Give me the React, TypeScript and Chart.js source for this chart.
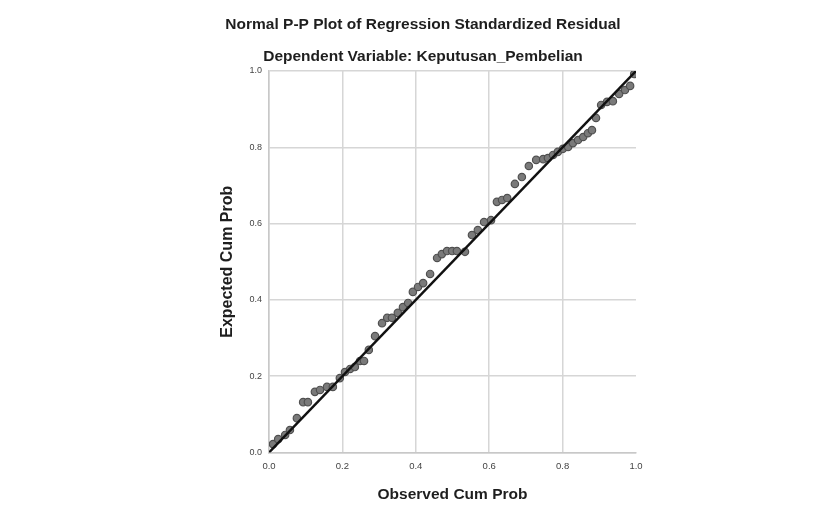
import React, { useEffect, useRef } from "react";
import { Chart, registerables } from "chart.js";

Chart.register(...registerables);

const observedCumProb = [
  0.011, 0.025, 0.044, 0.057, 0.076, 0.093, 0.106, 0.125, 0.139, 0.158,
  0.174, 0.193, 0.207, 0.221, 0.234, 0.248, 0.259, 0.272, 0.289, 0.308,
  0.322, 0.335, 0.351, 0.365, 0.379, 0.392, 0.406, 0.42, 0.439, 0.458,
  0.471, 0.485, 0.499, 0.512, 0.534, 0.553, 0.569, 0.586, 0.605, 0.621,
  0.635, 0.649, 0.67, 0.689, 0.708, 0.728, 0.747, 0.76, 0.774, 0.787,
  0.801, 0.815, 0.828, 0.842, 0.856, 0.869, 0.88, 0.891, 0.905, 0.921,
  0.937, 0.954, 0.97, 0.984, 0.995,
];
const expectedCumProb = [
  0.022, 0.035, 0.046, 0.059, 0.09, 0.132, 0.132, 0.159, 0.164, 0.172,
  0.172, 0.195, 0.211, 0.219, 0.224, 0.24, 0.24, 0.269, 0.305, 0.339,
  0.353, 0.353, 0.366, 0.381, 0.392, 0.421, 0.434, 0.444, 0.468, 0.51,
  0.52, 0.528, 0.528, 0.528, 0.526, 0.57, 0.583, 0.604, 0.609, 0.657,
  0.662, 0.667, 0.704, 0.722, 0.751, 0.767, 0.769, 0.772, 0.78, 0.788,
  0.796, 0.801, 0.811, 0.819, 0.827, 0.837, 0.845, 0.877, 0.911, 0.919,
  0.921, 0.94, 0.95, 0.961, 0.992,
];
const referenceLineX = [0, 1];
const referenceLineY = [0, 1];
const tickValues = [0, 0.2, 0.4, 0.6, 0.8, 1.0];

const FONT = "'Liberation Sans', Arial, sans-serif";

export default function App() {
  const canvasRef = useRef<HTMLCanvasElement | null>(null);

  useEffect(() => {
    const canvas = canvasRef.current;
    if (!canvas) return;
    const chart = new Chart(canvas, {
      type: "scatter",
      data: {
        datasets: [
          {
            type: "line",
            label: "Reference",
            data: referenceLineX.map((x, i) => ({ x, y: referenceLineY[i] })),
            borderColor: "#111111",
            borderWidth: 2.5,
            pointRadius: 0,
            fill: false,
            order: 1,
          },
          {
            type: "scatter",
            label: "Residual",
            data: observedCumProb.map((x, i) => ({ x, y: expectedCumProb[i] })),
            backgroundColor: "#7a7a7a",
            borderColor: "#505050",
            borderWidth: 1.2,
            pointRadius: 3.7,
            order: 2,
          },
        ],
      },
      options: {
        responsive: false,
        animation: false,
        layout: { padding: { left: 210, right: 191, top: 0, bottom: 0 } },
        plugins: {
          legend: { display: false },
          tooltip: { enabled: false },
          title: {
            display: true,
            text: "Normal P-P Plot of Regression Standardized Residual",
            color: "#1e1e1e",
            font: { family: FONT, size: 15.5, weight: "bold", lineHeight: 1.2 },
            padding: { top: 15.7, bottom: 13.4 },
          },
          subtitle: {
            display: true,
            text: "Dependent Variable: Keputusan_Pembelian",
            color: "#1e1e1e",
            font: { family: FONT, size: 15.5, weight: "bold", lineHeight: 1.2 },
            padding: { top: 0, bottom: 4.7 },
          },
        },
        scales: {
          x: {
            type: "linear",
            min: 0,
            max: 1,
            afterBuildTicks: (scale: any) => {
              scale.ticks = tickValues.map((v) => ({ value: v }));
            },
            afterFit: (scale: any) => {
              scale.height = 59.5;
            },
            ticks: {
              color: "#444444",
              font: { family: FONT, size: 9.5 },
              padding: 8,
              maxRotation: 0,
              callback: (v: any) => Number(v).toFixed(1),
            },
            grid: {
              color: (ctx: any) =>
                ctx.tick && ctx.tick.value === 1 ? "rgba(0,0,0,0)" : "#d6d6d6",
              lineWidth: 1.5,
              drawTicks: false,
            },
            border: { display: true, color: "#c8c8c8", width: 1.5 },
            title: {
              display: true,
              text: "Observed Cum Prob",
              color: "#1e1e1e",
              font: { family: FONT, size: 15.5, weight: "bold", lineHeight: 1.2 },
              padding: { top: 0, bottom: 7.7 },
            },
          },
          y: {
            type: "linear",
            min: 0,
            max: 1,
            afterBuildTicks: (scale: any) => {
              scale.ticks = tickValues.map((v) => ({ value: v }));
            },
            afterFit: (scale: any) => {
              scale.width = 59;
            },
            ticks: {
              color: "#444444",
              font: { family: FONT, size: 9 },
              padding: 7,
              callback: (v: any) => Number(v).toFixed(1),
            },
            grid: {
              color: "#d6d6d6",
              lineWidth: 1.5,
              drawTicks: false,
            },
            border: { display: true, color: "#c8c8c8", width: 1.5 },
            title: {
              display: true,
              text: "Expected Cum Prob",
              color: "#1e1e1e",
              font: { family: FONT, size: 16, weight: "bold", lineHeight: 1.2 },
              padding: { top: 8.4, bottom: 0 },
            },
          },
        },
      },
    });
    return () => chart.destroy();
  }, []);

  return (
    <div style={{ position: "fixed", left: 0, top: 0, width: 827, height: 512, background: "#ffffff" }}>
      <canvas ref={canvasRef} width={827} height={512} style={{ display: "block" }} />
    </div>
  );
}
